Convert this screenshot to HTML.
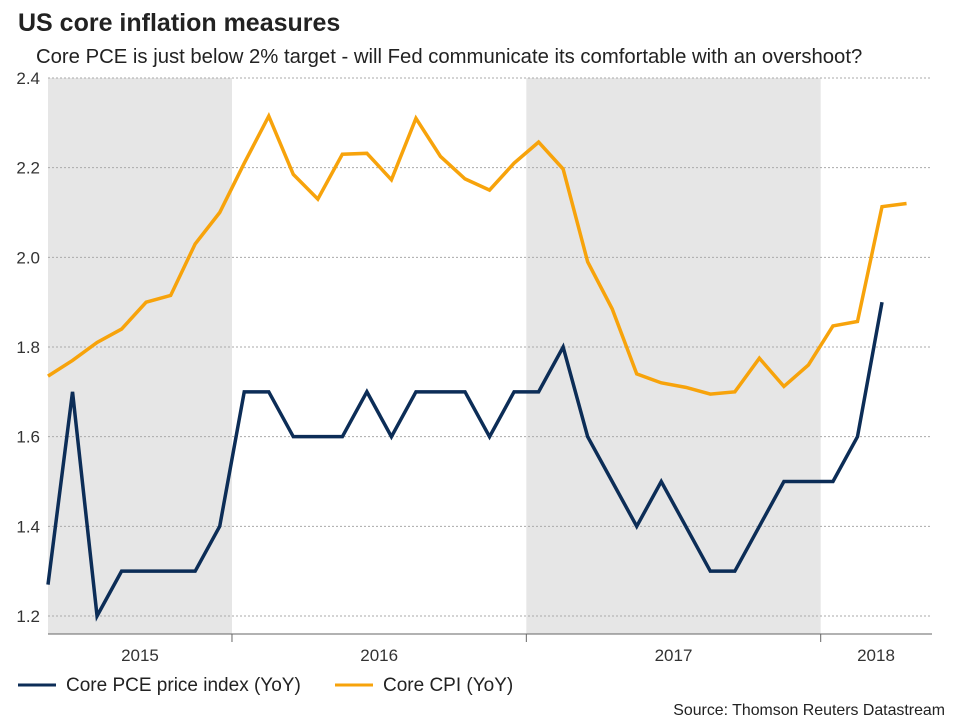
<!DOCTYPE html>
<html><head><meta charset="utf-8"><style>
body{margin:0;background:#fff;font-family:"Liberation Sans",Arial,sans-serif;}
#wrap{position:relative;width:960px;height:720px;overflow:hidden;}
</style></head><body>
<div id="wrap">
<svg id="chart" width="960" height="720">
<text x="18" y="31" font-size="25" font-weight="bold" fill="#222">US core inflation measures</text>
<text x="36" y="63" font-size="20.3" fill="#222">Core PCE is just below 2% target - will Fed communicate its comfortable with an overshoot?</text>
<g id="bg"></g><g id="grid"></g><g id="axes"></g><g id="lines"></g>
<g>
<line x1="18" y1="685" x2="56" y2="685" stroke="#0c2d57" stroke-width="3"/>
<text x="66" y="691" font-size="19" fill="#222">Core PCE price index (YoY)</text>
<line x1="335" y1="685" x2="373" y2="685" stroke="#f7a30b" stroke-width="3"/>
<text x="383" y="691" font-size="19" fill="#222">Core CPI (YoY)</text>
</g>
<text x="945" y="715" font-size="15.9" fill="#222" text-anchor="end">Source: Thomson Reuters Datastream</text>
</svg>
</div>
<script>
const pceValues=[1.27,1.7,1.2,1.3,1.3,1.3,1.3,1.4,1.7,1.7,1.6,1.6,1.6,1.7,1.6,1.7,1.7,1.7,1.6,1.7,1.7,1.8,1.6,1.5,1.4,1.5,1.4,1.3,1.3,1.4,1.5,1.5,1.5,1.6,1.9];
const cpiValues=[1.735,1.77,1.81,1.84,1.9,1.915,2.03,2.1,2.21,2.315,2.185,2.13,2.23,2.232,2.173,2.31,2.225,2.175,2.15,2.21,2.257,2.197,1.99,1.885,1.74,1.72,1.71,1.695,1.7,1.775,1.712,1.76,1.847,1.857,2.113,2.12];
const yTicks=[1.2,1.4,1.6,1.8,2.0,2.2,2.4];
const yearLabels=["2015","2016","2017","2018"];
const yearBounds=[-0.5,7.5,19.5,31.5,43.5];
const shadedYears=[0,2];
const NS="http://www.w3.org/2000/svg";
const X0=48,X1=932,DX=24.53,YT=78,YB=616,VMIN=1.2,VMAX=2.4;
const xs=i=>X0+i*DX;
const ys=v=>YB-(v-VMIN)/(VMAX-VMIN)*(YB-YT);
function mk(t,a,p){const e=document.createElementNS(NS,t);for(const k in a)e.setAttribute(k,a[k]);p.appendChild(e);return e;}
const bg=document.getElementById('bg'),grid=document.getElementById('grid'),axes=document.getElementById('axes'),lines=document.getElementById('lines');
shadedYears.forEach(y=>{
 const a=Math.max(X0,xs(yearBounds[y])),b=xs(yearBounds[y+1]);
 const r=mk('rect',{x:a,y:YT,width:b-a,height:YB-YT+18,fill:'#e6e6e6'},bg);
 
 
});
yTicks.forEach(v=>{
 const l=mk('line',{x1:X0,x2:X1,y1:ys(v),y2:ys(v),stroke:'#aaa','stroke-dasharray':'2,2','stroke-width':1},grid);
 
 
 const t=mk('text',{x:X0-8,y:ys(v)+6,'font-size':17,'text-anchor':'end',fill:'#333'},axes);
 t.textContent=v.toFixed(1);
 
 
});
const ax=mk('line',{x1:X0,x2:X1,y1:YB+18,y2:YB+18,stroke:'#666','stroke-width':1},axes);


yearLabels.forEach((lab,i)=>{
 const a=Math.max(X0,xs(yearBounds[i])),b=Math.min(X1,xs(yearBounds[i+1]));
 if(i>0){const tk=mk('line',{x1:a,x2:a,y1:YB+18,y2:YB+26,stroke:'#666'},axes);
 
 }
 const t=mk('text',{x:i==3?876:(a+b)/2,y:YB+45,'font-size':17,'text-anchor':'middle',fill:'#333'},axes);
 t.textContent=lab;
 
 
});
function drawLine(vals,color,name){
 const p=mk('path',{d:vals.map((v,i)=>(i?'L':'M')+xs(i)+','+ys(v)).join(''),fill:'none',stroke:color,'stroke-width':3.5,'stroke-linejoin':'miter'},lines);
 
 
}
drawLine(cpiValues,'#f7a30b','core-cpi-line');
drawLine(pceValues,'#0c2d57','core-pce-line');
</script>
</body></html>
